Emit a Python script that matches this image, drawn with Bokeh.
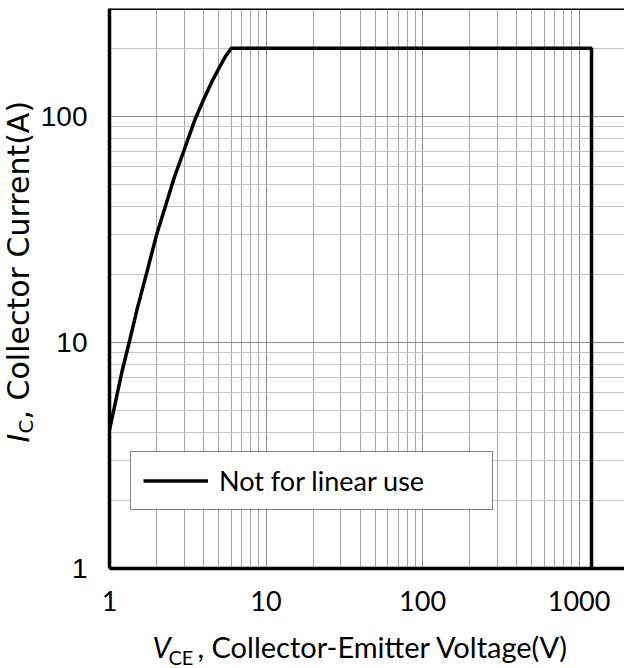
from bokeh.plotting import figure
from bokeh.layouts import column, row
from bokeh.models import FixedTicker, Span, Label, Legend, LegendItem, BasicTickFormatter
from bokeh.embed import file_html
from bokeh.resources import INLINE

# ---- data ----
vce = [1.0, 1.2, 1.35, 1.5, 1.75, 2.0, 2.3, 2.6, 3.0, 3.5, 4.0, 4.5, 5.0, 5.5, 6.0, 1200.0, 1200.0]
ic = [4.1, 7.4, 10.3, 14.0, 21.0, 30.0, 41.0, 54.0, 71.0, 96.0, 119.0, 142.0, 163.0, 184.0, 200.0, 200.0, 1.0]
series_name = "Not for linear use"

x_major = [1, 10, 100, 1000]
x_tick_labels = ["1", "10", "100", "1000"]
y_major = [1, 10, 100]
y_tick_labels = ["1", "10", "100"]
mantissas = [2, 3, 4, 5, 6, 7, 8, 9]
x_minor = [m * d for d in x_major for m in mantissas]
y_minor = [m * d for d in y_major for m in mantissas]

x_title = ("V", "CE", ", Collector-Emitter Voltage(V)")
y_title = ("I", "C", ", Collector Current(A)")

X_RANGE = (1, 1950)
Y_RANGE = (1, 300)

CAL = "Lato"             # stand-in for Calibri
ARI = "Liberation Sans"  # Arial
YT = "DejaVu Sans"

TOTAL_W, TOTAL_H = 624, 668
YT_W = 37                      # y-title strip width
XT_H = 48                      # x-title strip height
MAIN_W = TOTAL_W - YT_W
MAIN_H = TOTAL_H - XT_H
B_TOP, B_BOTTOM = 8, 52        # frame borders shared by the main plot and the y strip

p = figure(width=MAIN_W, height=MAIN_H, x_axis_type="log", y_axis_type="log",
           x_range=X_RANGE, y_range=Y_RANGE, title=None,
           output_backend="svg", toolbar_location=None,
           min_border_left=106 - YT_W, min_border_right=0,
           min_border_top=B_TOP, min_border_bottom=B_BOTTOM)

p.background_fill_color = "white"
p.border_fill_color = "white"
p.outline_line_color = None

xt = FixedTicker(ticks=x_major, minor_ticks=x_minor)
yt = FixedTicker(ticks=y_major, minor_ticks=y_minor)
p.xaxis.ticker = xt
p.yaxis.ticker = yt
p.xgrid.ticker = xt
p.ygrid.ticker = yt

p.xgrid.grid_line_color = "#8c8c8c"
p.ygrid.grid_line_color = "#8c8c8c"
p.xgrid.minor_grid_line_color = "#a6a6a6"
p.ygrid.minor_grid_line_color = "#c4c4c4"
p.xgrid.grid_line_width = 1
p.ygrid.grid_line_width = 1.2

for ax in (p.xaxis, p.yaxis):
    ax.formatter = BasicTickFormatter()
    ax.major_tick_line_color = None
    ax.minor_tick_line_color = None
    ax.major_tick_out = 0
    ax.minor_tick_out = 0
    ax.axis_line_color = "black"
    ax.axis_line_width = 3.5
    ax.major_label_text_color = "black"

p.xaxis.major_label_overrides = dict(zip(x_major, x_tick_labels))
p.yaxis.major_label_overrides = dict(zip(y_major, y_tick_labels))
p.xaxis.major_label_text_font = CAL
p.xaxis.major_label_text_font_size = "27px"
p.xaxis.major_label_standoff = 22
p.yaxis.major_label_text_font = ARI
p.yaxis.major_label_text_font_size = "28px"
p.yaxis.major_label_standoff = 22

p.add_layout(Span(location=Y_RANGE[1], dimension="width", line_color="black", line_width=3))

r = p.line(vce, ic, line_color="black", line_width=3.5)

legend = Legend(items=[LegendItem(label=series_name, renderers=[r])],
                location=(21, 58), padding=12, margin=0,
                glyph_width=65, glyph_height=29, label_standoff=11,
                label_width=261, label_height=29,
                label_text_font=CAL, label_text_font_size="27px", label_text_color="black",
                border_line_color="black", border_line_width=1.5,
                background_fill_color="white", background_fill_alpha=1.0)
p.add_layout(legend)


def blank(w, h, top=0, bottom=0):
    f = figure(width=w, height=h, x_range=(0, 1), y_range=(0, 1), title=None,
               toolbar_location=None, output_backend="svg",
               min_border_left=0, min_border_right=0,
               min_border_top=top, min_border_bottom=bottom,
               x_axis_location=None, y_axis_location=None)
    f.outline_line_color = None
    f.grid.visible = False
    f.background_fill_color = "white"
    f.border_fill_color = "white"
    return f


def lab(f, **kw):
    base = dict(x_units="screen", y_units="screen", text_color="black",
                text_baseline="middle", text_align="left")
    base.update(kw)
    f.add_layout(Label(**base))


# y-axis title strip (reads bottom to top); y measured from the frame bottom
yfig = blank(YT_W, MAIN_H, top=B_TOP, bottom=B_BOTTOM)
lab(yfig, x=18, y=126, text=y_title[0], text_font=YT, text_font_style="italic",
    text_font_size="30px", angle=90, angle_units="deg")
lab(yfig, x=25, y=135, text=y_title[1], text_font=YT, text_font_size="20px",
    angle=90, angle_units="deg")
lab(yfig, x=18, y=149, text=y_title[2], text_font=YT, text_font_size="30px",
    angle=90, angle_units="deg")

# x-axis title strip
xfig = blank(TOTAL_W, XT_H)
lab(xfig, x=152, y=22, text=x_title[0], text_font=CAL, text_font_style="italic", text_font_size="29px")
lab(xfig, x=168, y=11.6, text=x_title[1], text_font=CAL, text_font_size="20px")
lab(xfig, x=197, y=22, text=x_title[2], text_font=CAL, text_font_size="29px")

layout = column(row(yfig, p), xfig)

open("out.html", "w").write(file_html(layout, INLINE))
